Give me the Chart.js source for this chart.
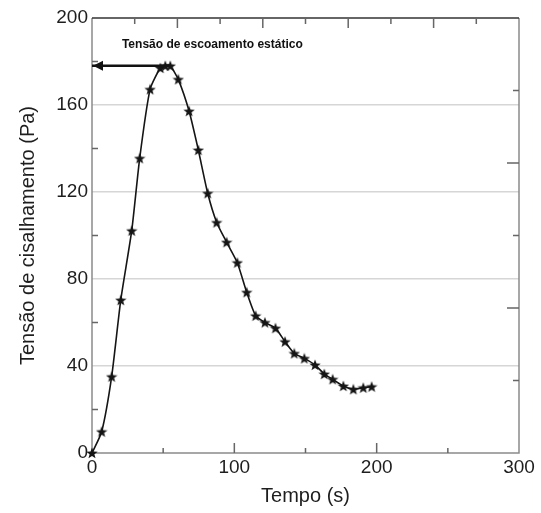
<!DOCTYPE html>
<html>
<head>
<meta charset="utf-8">
<script src="https://cdn.jsdelivr.net/npm/chart.js@4.4.1/dist/chart.umd.min.js"></script>
<style>
  html, body { margin: 0; padding: 0; background: #fff; }
</style>
</head>
<body>
<canvas id="chart" width="541" height="513"></canvas>
<script>
// tempo (s) e tensão de cisalhamento (Pa)
const timeValues = [0, 6.8, 13.8, 20.2, 27.9, 33.5, 40.8, 48, 51.5, 55, 60.6, 68.2, 74.7, 81.3, 87.6, 94.6,
  102.1, 108.7, 115, 121.5, 128.9, 135.6, 142.1, 149.2, 156.7, 163.2, 169.1, 176.6, 183.6, 190.6, 196.5];
const stressValues = [0, 9.8, 35.1, 70.3, 102.2, 135.5, 167.2, 177, 178, 178, 171.8, 157.2, 139.3, 119.4, 106, 96.9,
  87.5, 73.9, 63.1, 60, 57.4, 51.2, 45.8, 43.5, 40.5, 36.3, 33.9, 30.8, 29.3, 30, 30.5];

// seta da tensão de escoamento estático
const arrowTime = [0, 55];
const arrowStress = [178, 178];
const annotationText = 'Tensão de escoamento estático';
const annotationAt = [21, 187.6];

// marcas de escala (para dentro)
const leftTicks = [20, 60, 100, 140, 180];
const bottomTicks = [50, 100, 150, 200, 250];
const bottomLongTicks = [100, 200];
const topTicks = [30, 60, 90, 120, 150, 180, 210, 240, 270];
const rightTicks = [33.3, 66.7, 100, 133.3, 166.7];
const rightLongTicks = [66.7, 133.3];

const fontFamily = '"Liberation Sans", Arial, sans-serif';
const textColor = '#1e1e1e';

function makeStar(size) {
  const c = document.createElement('canvas');
  c.width = size;
  c.height = size;
  const g = c.getContext('2d');
  const cx = size / 2;
  const cy = size / 2 + 0.5;
  g.beginPath();
  for (let i = 0; i < 10; i++) {
    const r = i % 2 ? size * 0.21 : size * 0.5;
    const a = -Math.PI / 2 + (i * Math.PI) / 5;
    const px = cx + r * Math.cos(a);
    const py = cy + r * Math.sin(a);
    if (i === 0) g.moveTo(px, py);
    else g.lineTo(px, py);
  }
  g.closePath();
  g.fillStyle = '#151515';
  g.fill();
  return c;
}

const starImage = makeStar(12);

const framePlugin = {
  id: 'frame',
  beforeDatasetsDraw(chart) {
    const { ctx, chartArea: a, scales } = chart;
    const x = scales.x;
    const y = scales.y;
    ctx.save();
    ctx.lineWidth = 1.5;
    ctx.strokeStyle = '#8a8a8a';
    ctx.beginPath();
    ctx.moveTo(a.left, a.top);
    ctx.lineTo(a.left, a.bottom);
    ctx.lineTo(a.right, a.bottom);
    ctx.lineTo(a.right, a.top);
    ctx.stroke();
    ctx.strokeStyle = '#333';
    ctx.beginPath();
    ctx.moveTo(a.left, a.top);
    ctx.lineTo(a.right, a.top);
    ctx.stroke();

    ctx.strokeStyle = '#666';
    ctx.lineWidth = 1.5;
    ctx.beginPath();
    leftTicks.forEach((v) => {
      const py = y.getPixelForValue(v);
      ctx.moveTo(a.left, py);
      ctx.lineTo(a.left + 6, py);
    });
    rightTicks.forEach((v) => {
      const py = y.getPixelForValue(v);
      const len = rightLongTicks.includes(v) ? 12 : 6;
      ctx.moveTo(a.right, py);
      ctx.lineTo(a.right - len, py);
    });
    bottomTicks.forEach((v) => {
      const px = x.getPixelForValue(v);
      const len = bottomLongTicks.includes(v) ? 10 : 5;
      ctx.moveTo(px, a.bottom);
      ctx.lineTo(px, a.bottom - len);
    });
    topTicks.forEach((v) => {
      const px = x.getPixelForValue(v);
      const len = v % 60 === 0 ? 10 : 6;
      ctx.moveTo(px, a.top);
      ctx.lineTo(px, a.top + len);
    });
    ctx.stroke();
    ctx.restore();
  },
  afterDatasetsDraw(chart) {
    const { ctx, scales } = chart;
    const x = scales.x;
    const y = scales.y;
    // ponta da seta
    const tipX = x.getPixelForValue(arrowTime[0]) + 1;
    const tipY = y.getPixelForValue(arrowStress[0]);
    ctx.save();
    ctx.fillStyle = '#111';
    ctx.beginPath();
    ctx.moveTo(tipX, tipY);
    ctx.lineTo(tipX + 10, tipY - 5);
    ctx.lineTo(tipX + 10, tipY + 5);
    ctx.closePath();
    ctx.fill();

    // texto da anotação
    ctx.font = 'bold 12px ' + fontFamily;
    ctx.fillStyle = '#111';
    ctx.textBaseline = 'alphabetic';
    const w = ctx.measureText(annotationText).width;
    const tx = x.getPixelForValue(annotationAt[0]);
    const ty = y.getPixelForValue(annotationAt[1]) + 3;
    ctx.translate(tx, ty);
    ctx.scale(181 / w, 1);
    ctx.fillText(annotationText, 0, 0);
    ctx.restore();
  },
};

new Chart(document.getElementById('chart'), {
  type: 'scatter',
  data: {
    datasets: [
      {
        label: 'Tensão',
        data: timeValues.map((t, i) => ({ x: t, y: stressValues[i] })),
        showLine: true,
        borderColor: '#151515',
        borderWidth: 1.6,
        tension: 0.2,
        pointStyle: starImage,
        pointRadius: 6,
        clip: false,
      },
      {
        label: 'Escoamento',
        data: arrowTime.map((t, i) => ({ x: t, y: arrowStress[i] })),
        showLine: true,
        borderColor: '#111',
        borderWidth: 2.5,
        pointRadius: 0,
        clip: false,
      },
    ],
  },
  options: {
    responsive: false,
    animation: false,
    layout: { padding: { left: 0, right: 22, top: 18, bottom: 0 } },
    plugins: {
      legend: { display: false },
      tooltip: { enabled: false },
    },
    scales: {
      x: {
        type: 'linear',
        min: 0,
        max: 300,
        ticks: {
          stepSize: 100,
          padding: 3,
          color: textColor,
          font: { family: fontFamily, size: 19 },
        },
        grid: { display: false, drawTicks: false },
        border: { display: false },
        title: {
          display: true,
          text: 'Tempo (s)',
          color: textColor,
          font: { family: fontFamily, size: 20 },
          padding: { top: 0, bottom: 5 },
        },
        afterFit(scale) {
          scale.height = 60;
        },
      },
      y: {
        type: 'linear',
        min: 0,
        max: 200,
        ticks: {
          stepSize: 40,
          padding: 4,
          color: textColor,
          font: { family: fontFamily, size: 19 },
        },
        grid: {
          drawTicks: false,
          lineWidth: 1.5,
          color: (c) => (c.tick && c.tick.value > 0 && c.tick.value < 200 ? '#d6d6d6' : 'rgba(0,0,0,0)'),
        },
        border: { display: false },
        title: {
          display: true,
          text: 'Tensão de cisalhamento (Pa)',
          color: textColor,
          font: { family: fontFamily, size: 20 },
          padding: { top: 16, bottom: 0 },
        },
        afterFit(scale) {
          scale.width = 92;
        },
      },
    },
  },
  plugins: [framePlugin],
});
</script>
</body>
</html>
